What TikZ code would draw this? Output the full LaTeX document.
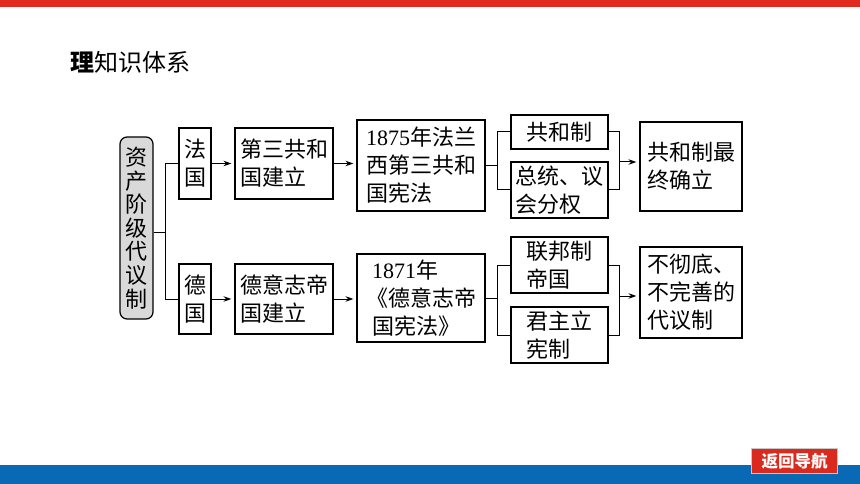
\documentclass[tikz,border=0pt]{standalone}
\usepackage{fontspec}
\setmainfont{Noto Sans CJK SC}
\newfontfamily\dig{Liberation Serif}
\usetikzlibrary{arrows.meta}
\definecolor{topred}{HTML}{E2291E}
\definecolor{botblue}{HTML}{0A69B5}
\definecolor{btnred}{HTML}{DA2A1E}
\definecolor{btnborder}{HTML}{C8C8C8}
\definecolor{lgray}{HTML}{D9D9D9}
\begin{document}
\begin{tikzpicture}[x=1pt,y=-1pt,
  box/.style={draw=black, line width=1.2pt, inner sep=0pt, align=left,
    font=\fontsize{22}{28}\selectfont},
  conn/.style={line width=1pt},
  arr/.style={conn,-{Stealth[length=8pt,width=5.5pt]}, shorten >=3pt}]
\useasboundingbox (0,0) rectangle (860,484);
\fill[white] (0,0) rectangle (860,484);
\fill[topred] (0,0) rectangle (860,7);
\fill[botblue] (0,465) rectangle (860,484);

\node[anchor=west, inner sep=0pt, font=\fontsize{24}{24}\selectfont] (title) at (70,62) {\textbf{理}知识体系};

\node[box, fill=lgray, rounded corners=7pt, minimum width=33pt, minimum height=182pt,
  align=center, font=\fontsize{22}{23.6}\selectfont] (L) at (136.5,228)
  {资\\产\\阶\\级\\代\\议\\制};

\node[box, minimum width=32pt, minimum height=71pt] (fa) at (195,163.5) {法\\国};
\node[box, minimum width=32pt, minimum height=70pt] (de) at (195,299) {德\\国};

\node[box, minimum width=98pt, minimum height=71pt] (d3) at (284,163.5) {第三共和\\国建立};
\node[box, minimum width=98pt, minimum height=70pt] (dy) at (284,299) {德意志帝\\国建立};

\node[box, minimum width=128pt, minimum height=91pt] (f75) at (421,165.5)
  {{\dig 1875}年法兰\\西第三共和\\国宪法};
\node[box, minimum width=128pt, minimum height=88pt] (f71) at (421,298)
  {\hspace*{6pt}{\dig 1871}年\\《德意志帝\\\hspace*{6pt}国宪法》};

\node[box, minimum width=97pt, minimum height=34pt] (gh) at (559.5,132) {共和制};
\node[box, minimum width=97pt, minimum height=56pt] (zt) at (559.5,190) {总统、议\\会分权};
\node[box, minimum width=97pt, minimum height=56pt] (lb) at (559.5,265) {联邦制\\帝国};
\node[box, minimum width=97pt, minimum height=56pt] (jz) at (559.5,335) {君主立\\宪制};

\node[box, minimum width=102pt, minimum height=89pt] (r1) at (691,166.5) {共和制最\\终确立};
\node[box, minimum width=102pt, minimum height=91pt] (r2) at (691,292.5) {不彻底、\\不完善的\\代议制};

% connectors
\coordinate (j1) at (165,232);
\draw[conn] (L.east |- j1) -- (j1);
\draw[conn] (j1) |- (fa.west);
\draw[conn] (j1) |- (de.west);
\draw[arr] (fa.east) -- (d3.west);
\draw[arr] (de.east) -- (dy.west);
\draw[arr] (d3.east) -- (d3.east -| f75.west);
\draw[arr] (dy.east) -- (dy.east -| f71.west);

\coordinate (j2) at (497,165.5);
\draw[conn] (f75.east) -- (j2);
\draw[conn] (j2) |- (gh.west);
\draw[conn] (j2) |- (zt.west);
\coordinate (j3) at (619,162);
\draw[conn] (gh.east) -| (j3);
\draw[conn] (zt.east) -| (j3);
\draw[arr] (j3) -- (j3 -| r1.west);

\coordinate (j4) at (497,298);
\draw[conn] (f71.east) -- (j4);
\draw[conn] (j4) |- (lb.west);
\draw[conn] (j4) |- (jz.west);
\coordinate (j5) at (619,296);
\draw[conn] (lb.east) -| (j5);
\draw[conn] (jz.east) -| (j5);
\draw[arr] (j5) -- (j5 -| r2.west);

\node[draw=btnborder, line width=1.5pt, fill=btnred, minimum width=86pt, minimum height=25pt,
  inner sep=0pt, text=white, font=\bfseries\fontsize{16.5}{16.5}\selectfont] (back) at (794.5,461) {返回导航};
\end{tikzpicture}
\end{document}
